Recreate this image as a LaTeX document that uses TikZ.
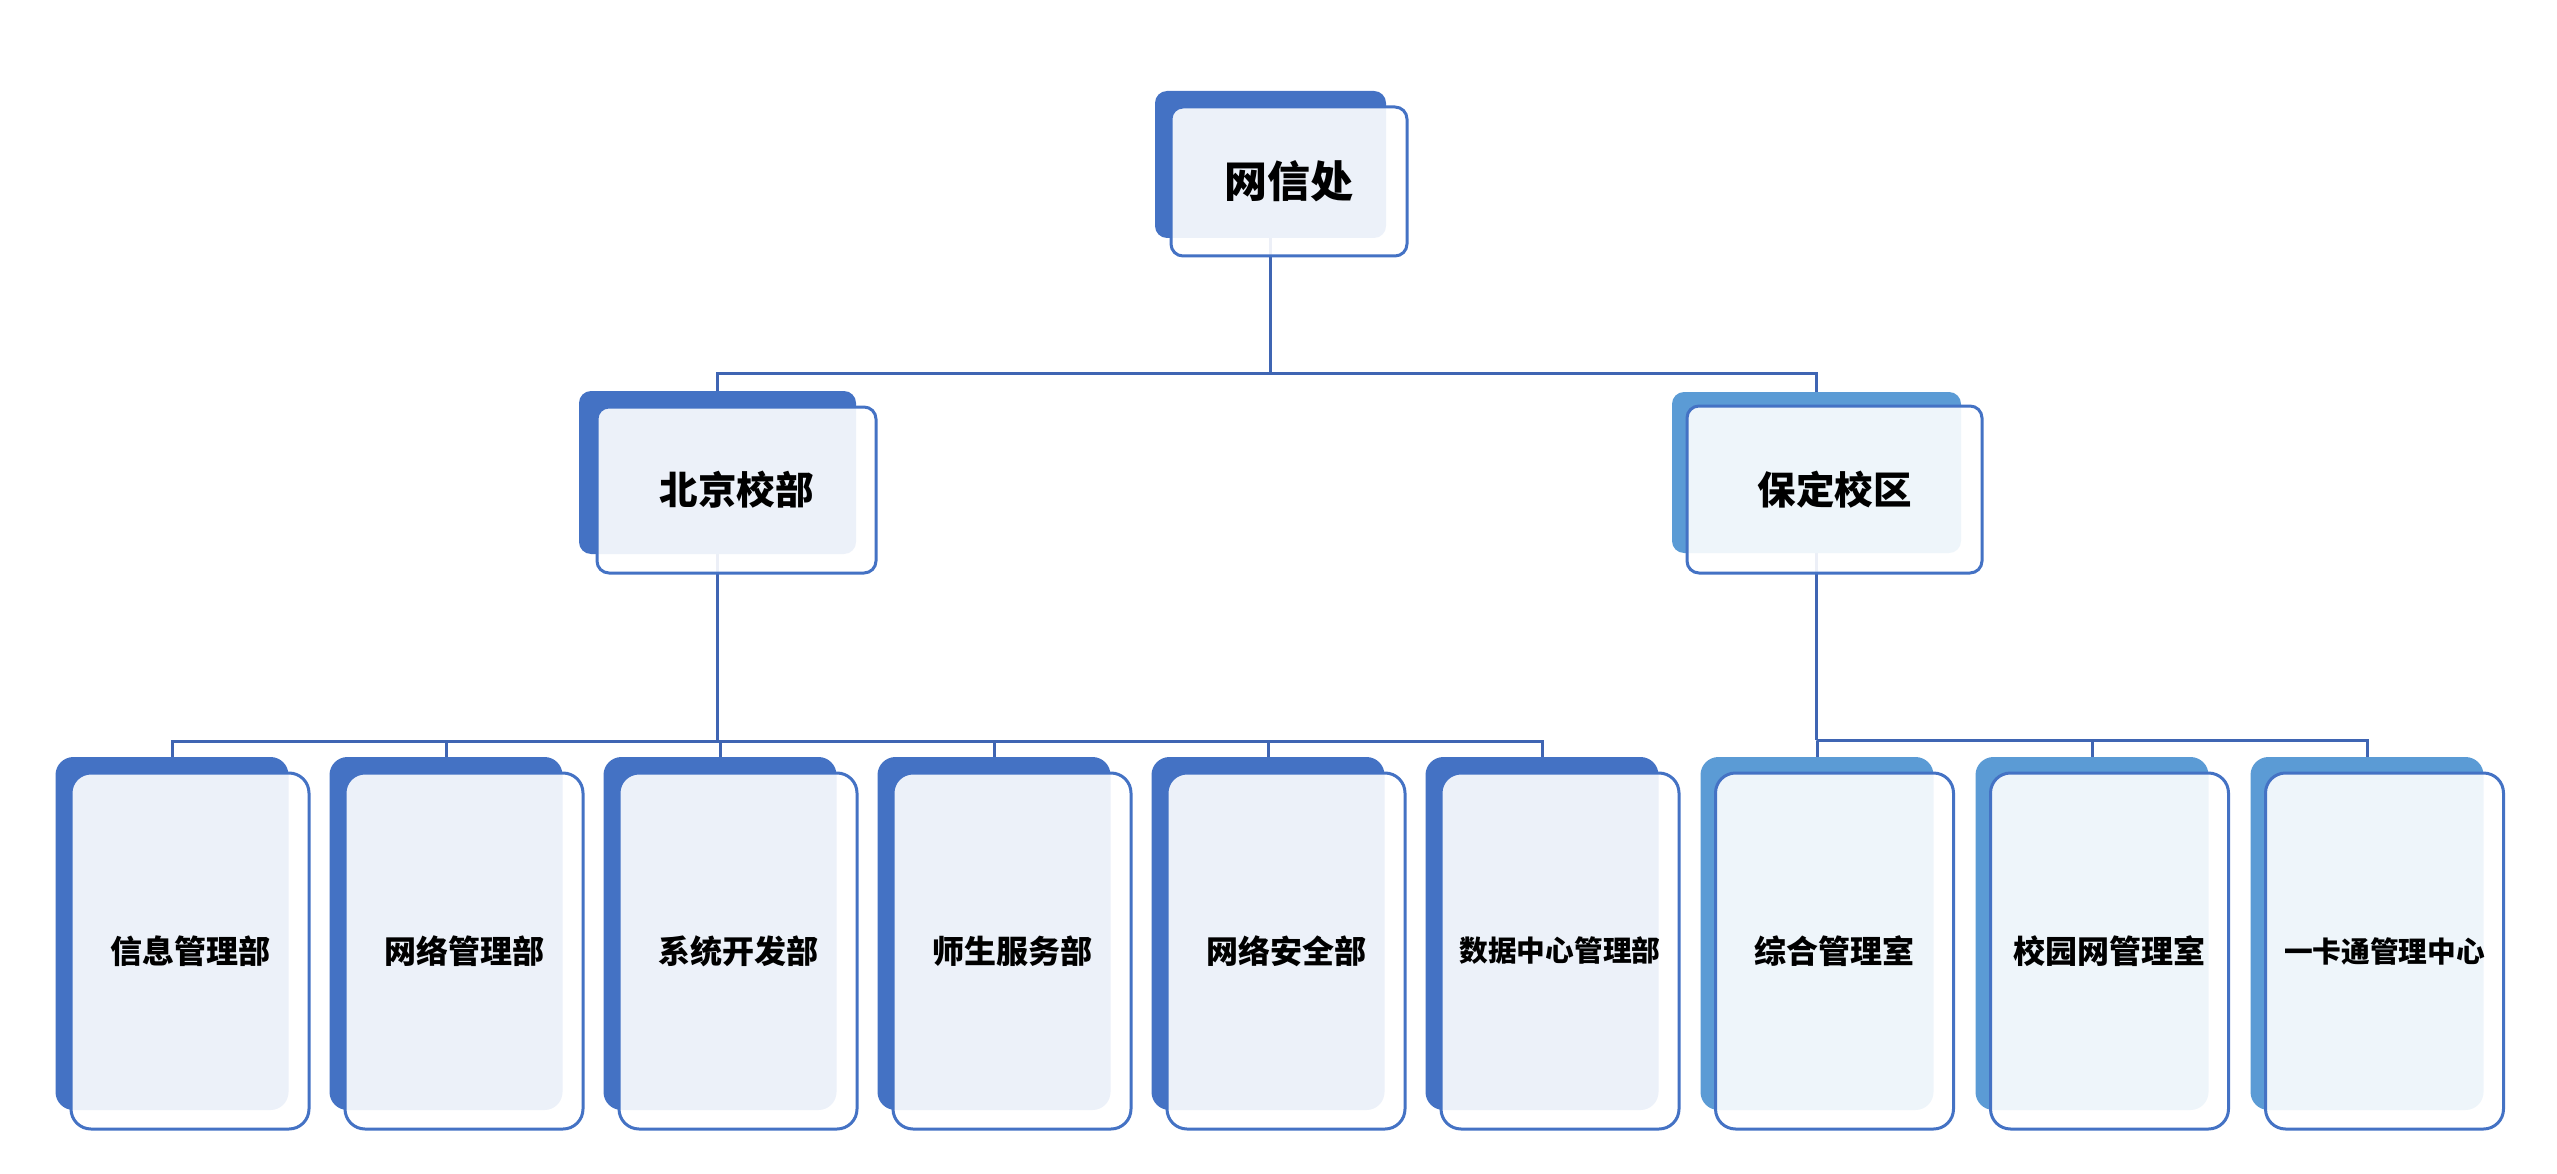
\documentclass[tikz,border=0pt]{standalone}
\usepackage{fontspec}
\newfontfamily\cjk{Noto Sans CJK SC}
\usetikzlibrary{backgrounds}

\definecolor{deptblue}{HTML}{4472C4}
\definecolor{campusblue}{HTML}{5B9BD5}
\definecolor{linkblue}{HTML}{3F65B3}

\begin{document}
\begin{tikzpicture}[
    x=1pt,
    y=-1pt,
    backbox/.style={
        rectangle,
        inner sep=0pt,
        rounded corners=12pt,
        fill=#1
    },
    frontbox/.style={
        rectangle,
        inner sep=0pt,
        rounded corners=12pt,
        draw=deptblue,
        line width=3pt,
        fill=white,
        fill opacity=0.9,
        text opacity=1,
        text=black
    },
    leafback/.style={
        backbox=#1,
        rounded corners=18pt,
        minimum width=233pt,
        minimum height=353pt
    },
    leaffront/.style={
        frontbox,
        rounded corners=20pt,
        minimum width=238pt,
        minimum height=356pt,
        font=\cjk\bfseries\fontsize{32pt}{38pt}\selectfont
    },
    orgline/.style={
        draw=linkblue,
        line width=3pt
    }
]

\useasboundingbox (0,0) rectangle (2557,1174);

% -------------------------------------------------
% Top: 网信处
% -------------------------------------------------

\node[backbox=deptblue, minimum width=231pt, minimum height=147pt]
    (wxc-b) at (1270.5,164.5) {};
\node[frontbox, minimum width=236pt, minimum height=149pt,
      font=\cjk\bfseries\fontsize{43pt}{50pt}\selectfont]
    (wxc) at (1289,181.5) {网信处};

% -------------------------------------------------
% Campuses
% -------------------------------------------------

\node[backbox=deptblue, minimum width=277pt, minimum height=163pt]
    (bj-b) at (717.5,472.5) {};
\node[frontbox, minimum width=279pt, minimum height=166pt,
      font=\cjk\bfseries\fontsize{38.5pt}{45pt}\selectfont]
    (bj) at (736.5,490) {北京校部};

\node[backbox=campusblue, minimum width=289pt, minimum height=161pt]
    (bd-b) at (1816.5,472.5) {};
\node[frontbox, minimum width=295pt, minimum height=167pt,
      font=\cjk\bfseries\fontsize{38.5pt}{45pt}\selectfont]
    (bd) at (1834.5,489.5) {保定校区};

% -------------------------------------------------
% Departments of 北京校部
% -------------------------------------------------

\foreach \name [count=\i from 0] in {信息管理部,网络管理部,系统开发部,师生服务部,网络安全部} {
    \node[leafback=deptblue] (l\i-b) at (172+274*\i,933.5) {};
    \node[leaffront] (l\i) at (190+274*\i,951) {\name};
}
\node[leafback=deptblue] (l5-b) at (1542,933.5) {};
\node[leaffront, font=\cjk\bfseries\fontsize{28.7pt}{34pt}\selectfont]
    (l5) at (1560,951) {数据中心管理部};

% -------------------------------------------------
% Offices of 保定校区
% -------------------------------------------------

\foreach \name [count=\j from 0] in {综合管理室,校园网管理室} {
    \node[leafback=campusblue] (r\j-b) at (1817+275*\j,933.5) {};
    \node[leaffront] (r\j) at (1834.5+275*\j,951) {\name};
}
\node[leafback=campusblue] (r2-b) at (2367,933.5) {};
\node[leaffront, font=\cjk\bfseries\fontsize{28.7pt}{34pt}\selectfont]
    (r2) at (2384.5,951) {一卡通管理中心};

% -------------------------------------------------
% Connectors (behind the boxes)
% -------------------------------------------------

\begin{scope}[on background layer]
    \draw[orgline] (wxc-b.south) -- (wxc-b.south |- 0,373) coordinate (top-bus);
    \draw[orgline] (bj-b.north) |- (top-bus) -| (bd-b.north);

    \draw[orgline] (bj-b.south) -- (bj-b.south |- 0,741) coordinate (bj-bus);
    \foreach \i in {0,...,5}
        \draw[orgline] (bj-bus) -| (l\i-b.north);

    \draw[orgline] (bd-b.south) -- (bd-b.south |- 0,740) coordinate (bd-bus);
    \foreach \j in {0,1,2}
        \draw[orgline] (bd-bus) -| (r\j-b.north);
\end{scope}

\end{tikzpicture}
\end{document}
